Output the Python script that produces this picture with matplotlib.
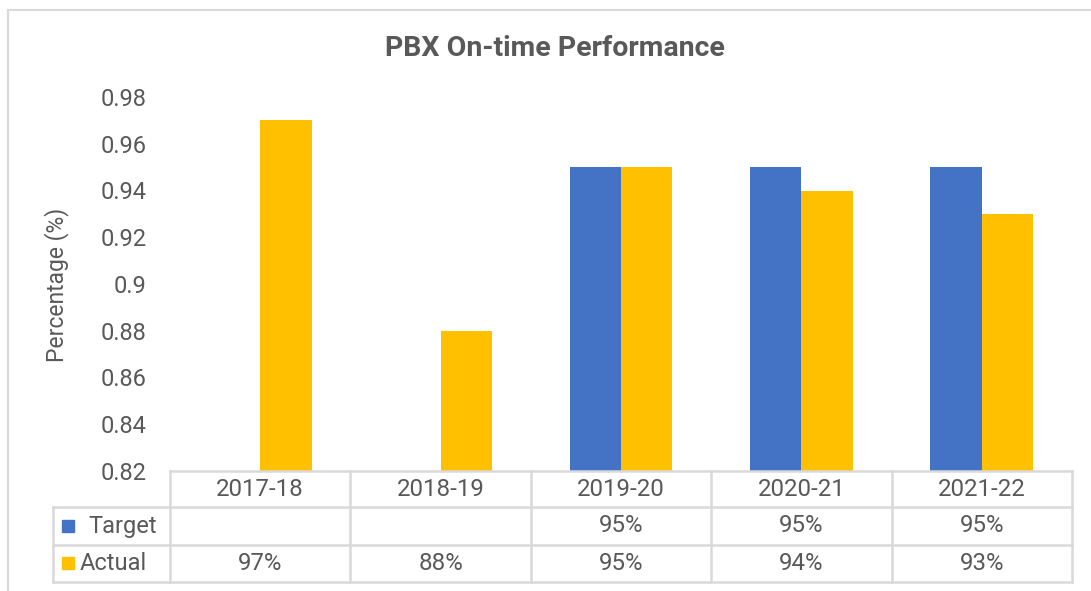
import matplotlib
matplotlib.use('Agg')
import matplotlib.pyplot as plt
from matplotlib.patches import Rectangle
from matplotlib.lines import Line2D
import numpy as np

years = ['2017-18', '2018-19', '2019-20', '2020-21', '2021-22']
target = [np.nan, np.nan, 0.95, 0.95, 0.95]
actual = [0.97, 0.88, 0.95, 0.94, 0.93]
series_names = ['Target', 'Actual']

BLUE = '#4472C4'
GOLD = '#FFC000'
TEXT = '#595959'
GRID = '#D9D9D9'

W, H = 1091, 591
plt.rcParams['font.family'] = ['Roboto', 'DejaVu Sans']


def fx(px):
  return px / W


def fy(py):
  return 1 - py / H


fig = plt.figure(figsize=(W / 100, H / 100), dpi=100)

# outer chart frame
fig.patches.append(Rectangle((fx(8), fy(600)), fx(1100) - fx(8), fy(10) - fy(600),
                             transform=fig.transFigure, fill=False, ec=GRID, lw=1.5))

ax = fig.add_axes([fx(170), fy(471), fx(1072) - fx(170), fy(97) - fy(471)])
x = np.arange(len(years))
bw = 0.285
ax.bar(x - bw / 2, target, bw, color=BLUE, label=series_names[0])
ax.bar(x + bw / 2, actual, bw, color=GOLD, label=series_names[1])
ax.set_xlim(-0.5, len(years) - 0.5)
ax.set_ylim(0.82, 0.98)
ax.set_yticks(np.arange(0.82, 0.981, 0.02))
ax.set_yticklabels(['%g' % round(v, 2) for v in np.arange(0.82, 0.981, 0.02)])
ax.tick_params(axis='y', length=0, pad=17, labelsize=17, labelcolor=TEXT)
ax.tick_params(axis='x', length=0, labelbottom=False)
for s in ax.spines.values():
  s.set_visible(False)

fig.text(fx(57), fy(285), 'Percentage (%)', rotation=90, ha='center', va='center',
         fontsize=16.5, color=TEXT)
fig.text(fx(555), fy(48), 'PBX On-time Performance', ha='center', va='center',
         fontsize=20.5, fontweight='bold', color=TEXT)

# data table below the plot
rows = [471, 507, 545, 582]
col_edges = [fx(170) + (fx(1072) - fx(170)) * i / len(years) for i in range(len(years) + 1)]
for i, ry in enumerate(rows):
  x0 = fx(170) if i == 0 else fx(53)
  fig.lines.append(Line2D([x0, fx(1072)], [fy(ry), fy(ry)], transform=fig.transFigure,
                          color=GRID, lw=1.8))
for cx in col_edges:
  fig.lines.append(Line2D([cx, cx], [fy(471), fy(582)], transform=fig.transFigure,
                          color=GRID, lw=1.8))
fig.lines.append(Line2D([fx(53), fx(53)], [fy(507), fy(582)], transform=fig.transFigure,
                        color=GRID, lw=1.8))

centers = [(col_edges[i] + col_edges[i + 1]) / 2 for i in range(len(years))]
for c, yr in zip(centers, years):
  fig.text(c, fy(489), yr, ha='center', va='center', fontsize=17.3, color=TEXT)

for ry, vals, name, color, tx in [(526, target, series_names[0], BLUE, 88),
                                  (563, actual, series_names[1], GOLD, 80)]:
  fig.patches.append(Rectangle((fx(62), fy(ry + 6)), fx(74) - fx(62), fy(ry - 6) - fy(ry + 6),
                               transform=fig.transFigure, color=color))
  fig.text(fx(tx), fy(ry), name, ha='left', va='center', fontsize=17, color=TEXT)
  for c, v in zip(centers, vals):
    if not np.isnan(v):
      fig.text(c, fy(ry), '%d%%' % round(v * 100), ha='center', va='center',
               fontsize=17.3, color=TEXT)

fig.savefig('out.png', dpi=100)
